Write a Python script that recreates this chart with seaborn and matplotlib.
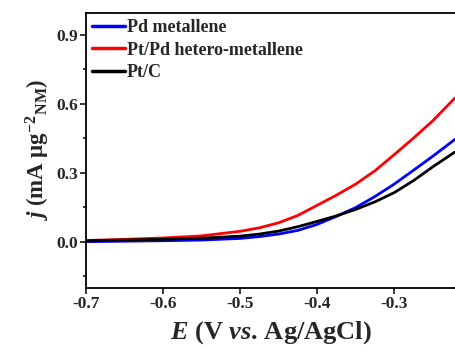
import numpy as np
import pandas as pd
import matplotlib
matplotlib.use('Agg')
import matplotlib.pyplot as plt
from matplotlib.ticker import MultipleLocator, FormatStrFormatter
import seaborn as sns

# ── data ────────────────────────────────────────────────────
potential = [-0.70, -0.65, -0.60, -0.55, -0.50, -0.475, -0.45, -0.425, -0.40,
             -0.375, -0.35, -0.325, -0.30, -0.275, -0.25, -0.221]
pd_metallene = [0.000, 0.002, 0.004, 0.007, 0.014, 0.022, 0.033, 0.049, 0.075,
                0.110, 0.148, 0.196, 0.250, 0.310, 0.371, 0.445]
ptpd_hetero = [0.005, 0.010, 0.016, 0.025, 0.045, 0.060, 0.082, 0.114, 0.158,
               0.202, 0.250, 0.308, 0.378, 0.450, 0.525, 0.625]
pt_c = [0.004, 0.007, 0.010, 0.015, 0.024, 0.033, 0.046, 0.065, 0.088,
        0.112, 0.140, 0.173, 0.213, 0.265, 0.325, 0.390]

labels = ['Pd metallene', 'Pt/Pd hetero-metallene', 'Pt/C']
colors = ['#0000ff', '#ff0000', '#000000']

df = pd.DataFrame({
    'E': potential * 3,
    'j': pd_metallene + ptpd_hetero + pt_c,
    'sample': [labels[0]] * len(potential) + [labels[1]] * len(potential)
              + [labels[2]] * len(potential),
})

# ── style ───────────────────────────────────────────────────
sns.set_style('ticks')
plt.rcParams['font.family'] = ['Liberation Serif', 'DejaVu Serif']
plt.rcParams['font.weight'] = 'bold'
plt.rcParams['mathtext.fontset'] = 'custom'
plt.rcParams['mathtext.rm'] = 'Liberation Serif:bold'
plt.rcParams['mathtext.bf'] = 'Liberation Serif:bold'
plt.rcParams['mathtext.it'] = 'Liberation Serif:italic:bold'

fig = plt.figure(figsize=(4.55, 3.56), dpi=100)
ax = fig.add_axes([0.189, 0.192, 0.811, 0.772])

sns.lineplot(data=df, x='E', y='j', hue='sample', hue_order=labels,
             palette=colors, linewidth=2.0, ax=ax, estimator=None, sort=False)

ax.set_xlim(-0.7, -0.221)
ax.set_ylim(-0.2, 0.995)
ax.xaxis.set_major_locator(MultipleLocator(0.1))
ax.yaxis.set_major_locator(MultipleLocator(0.3))
ax.yaxis.set_minor_locator(MultipleLocator(0.15))
ax.xaxis.set_major_formatter(FormatStrFormatter('%.1f'))
ax.yaxis.set_major_formatter(FormatStrFormatter('%.1f'))
ax.tick_params(axis='both', which='major', direction='out', length=4, width=1.3,
               labelsize=12.5, pad=2)
ax.tick_params(axis='y', which='minor', direction='out', length=2.5, width=1.3)
for lab in ax.get_xticklabels() + ax.get_yticklabels():
    lab.set_fontweight('bold')

for side in ['left', 'bottom', 'top']:
    ax.spines[side].set_linewidth(1.3)
    ax.spines[side].set_color('black')
ax.spines['right'].set_visible(False)

ax.set_xlabel(r'$E$ (V $vs$. Ag/AgCl)', fontsize=19, fontweight='bold', labelpad=5)
ax.set_ylabel(r'$j$ (mA μg$^{-2}{}_{\mathrm{NM}}$)', fontsize=16.5, fontweight='bold',
              labelpad=3)

leg = ax.legend(loc='upper left', frameon=False, fontsize=13, handlelength=1.8,
                handletextpad=0.1, labelspacing=0.3, borderaxespad=0.15,
                borderpad=0.2)
for t in leg.get_texts():
    t.set_fontweight('bold')
for h in leg.get_lines():
    h.set_linewidth(2.5)

fig.savefig('out.png', dpi=100)
